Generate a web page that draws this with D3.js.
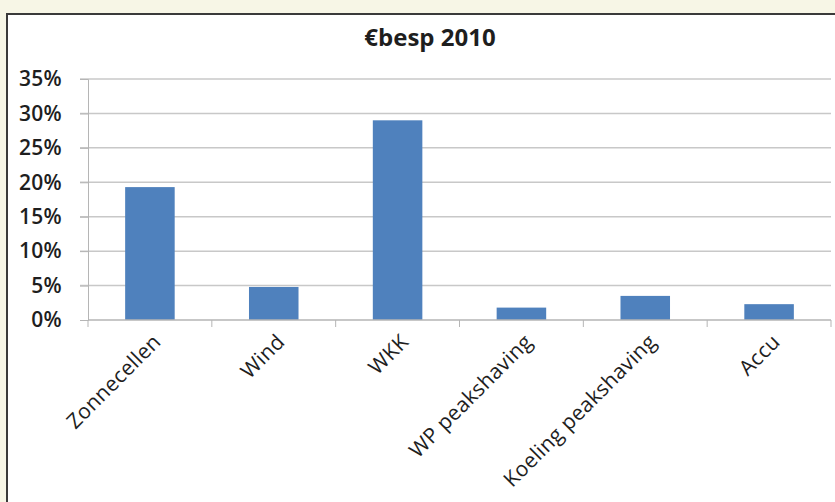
<!DOCTYPE html>
<html>
<head>
<meta charset="utf-8">
<script src="https://cdn.jsdelivr.net/npm/d3@7"></script>
<style>
  html, body { margin: 0; padding: 0; background: #f7f6e6; }
  svg { display: block; }
  text { font-family: "Open Sans", "Liberation Sans", sans-serif; fill: #1e1e1e; }
</style>
</head>
<body>
<svg id="chart" width="835" height="502"></svg>
<script>
// chart data
const categories = ['Zonnecellen', 'Wind', 'WKK', 'WP peakshaving', 'Koeling peakshaving', 'Accu'];
const values = [0.193, 0.048, 0.29, 0.018, 0.035, 0.023];
const yTicks = [0, 0.05, 0.10, 0.15, 0.20, 0.25, 0.30, 0.35];
const title = '€besp 2010';

const svg = d3.select('#chart');

// white chart area with dark top/left border
svg.append('rect')
  .attr('x', 7).attr('y', 14)
  .attr('width', 835).attr('height', 500)
  .attr('fill', '#ffffff');
svg.append('path')
  .attr('d', 'M7,502 V14 H835')
  .attr('fill', 'none')
  .attr('stroke', '#3a3a3a')
  .attr('stroke-width', 2);

const plotLeft = 88, plotRight = 831, plotTop = 79, plotBottom = 320;

const x = d3.scaleBand()
  .domain(categories)
  .range([plotLeft, plotRight])
  .paddingInner(0.6)
  .paddingOuter(0.3);

const y = d3.scaleLinear()
  .domain([0, 0.35])
  .range([plotBottom, plotTop]);

// gridlines
svg.append('g')
  .selectAll('line')
  .data(yTicks.slice(1))
  .enter()
  .append('line')
  .attr('x1', plotLeft - 8).attr('x2', plotRight)
  .attr('y1', d => y(d)).attr('y2', d => y(d))
  .attr('stroke', '#c8c8c8')
  .attr('stroke-width', 1.5);

// y axis
const yAxis = svg.append('g')
  .attr('transform', 'translate(' + plotLeft + ',0)')
  .call(d3.axisLeft(y).tickValues(yTicks).tickFormat(d3.format('.0%')).tickSize(8).tickPadding(18));
yAxis.select('.domain').attr('stroke', '#b5b5b5');
yAxis.selectAll('.tick line').attr('stroke', '#b5b5b5');
yAxis.selectAll('text')
  .style('font-size', '21px')
  .style('font-weight', '600')
  .style('letter-spacing', '0.3px')
  .attr('fill', '#1e1e1e');

// bars
svg.append('g')
  .selectAll('rect')
  .data(values)
  .enter()
  .append('rect')
  .attr('x', (d, i) => x(categories[i]))
  .attr('y', d => y(d))
  .attr('width', x.bandwidth())
  .attr('height', d => plotBottom - y(d))
  .attr('fill', '#4f81bd');

// x axis with ticks between categories
const xBounds = d3.range(categories.length + 1).map(i => plotLeft + i * (plotRight - plotLeft) / categories.length);
svg.append('line')
  .attr('x1', plotLeft).attr('x2', plotRight)
  .attr('y1', plotBottom).attr('y2', plotBottom)
  .attr('stroke', '#b5b5b5').attr('stroke-width', 1.5);
svg.append('g')
  .selectAll('line')
  .data(xBounds)
  .enter()
  .append('line')
  .attr('x1', d => d).attr('x2', d => d)
  .attr('y1', plotBottom).attr('y2', plotBottom + 7)
  .attr('stroke', '#b5b5b5');

svg.append('g')
  .selectAll('text')
  .data(categories)
  .enter()
  .append('text')
  .attr('transform', d => 'translate(' + (x(d) + x.bandwidth() / 2 + 7) + ',' + (plotBottom + 18) + ') rotate(-45)')
  .attr('text-anchor', 'end')
  .attr('dy', '0.35em')
  .style('font-size', '21px')
  .style('letter-spacing', '0.3px')
  .text(d => d);

// title
svg.append('text')
  .attr('x', 430)
  .attr('y', 46)
  .attr('text-anchor', 'middle')
  .style('font-size', '24px')
  .style('font-weight', 'bold')
  .text(title);
</script>
</body>
</html>
